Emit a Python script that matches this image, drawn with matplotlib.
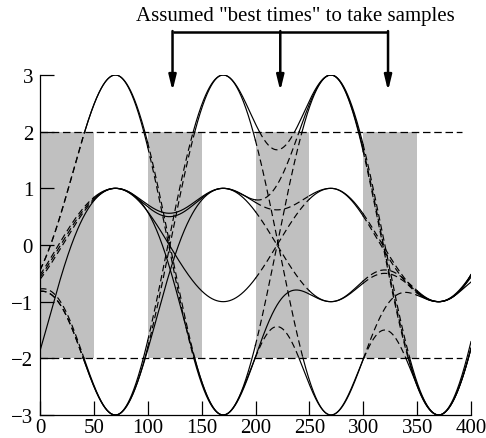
import numpy as np
import matplotlib.pyplot as plt

plt.rcParams['font.family'] = ['Liberation Serif', 'DejaVu Serif']

# symbol period and symbol instants covering one 400-sample eye window
T = 100
symbol_times = [-30, 70, 170, 270, 370, 470]

# 4-PAM symbol sequences, one per eye trace
traces = [
    [-1, 3, -3, 3, -3, 3],
    [-1, 3, -3, -1, -1, 1],
    [-3, 1, 1, 3, -3, 3],
    [-1, 1, 1, -1, -1, -1],
    [-1, -3, 3, 3, -3, 3],
    [-1, 1, -3, -3, -3, 3],
    [-1, 1, -1, 1, -1, 3],
    [-1, -3, 3, -3, -1, 1],
    [-1, -3, 1, 1, -1, 3],
]
# 1 = trace is drawn dashed inside that shaded window
dashed_in = [
    [1, 1, 1, 1],
    [1, 1, 0, 1],
    [0, 0, 1, 1],
    [1, 0, 1, 1],
    [1, 1, 1, 1],
    [1, 0, 1, 1],
    [1, 0, 1, 1],
    [1, 1, 1, 1],
    [1, 0, 1, 1],
]

windows = [(0, 50), (100, 150), (200, 250), (300, 350)]
threshold = 2
sample_times = [123, 223, 323]
xticks = list(range(0, 401, 50))
yticks = [-3, -2, -1, 0, 1, 2, 3]


def pulse(u):
    au = np.abs(u)
    main = np.cos(np.pi * au / 2) ** 4
    tail = -0.03 * np.sin(np.pi * (au - 1)) ** 2
    return np.where(au <= 1, main, np.where(au < 2, tail, 0.0))


fig = plt.figure(figsize=(4.86, 4.39), dpi=100)
ax = fig.add_axes([40 / 486, 23 / 439, 431 / 486, 340 / 439])

for x0, x1 in windows:
    ax.fill_between([x0, x1], -threshold, threshold, color='#c0c0c0', lw=0, zorder=0)

ax.plot([0, 392], [threshold, threshold], color='k', lw=0.9, ls=(0, (6, 3)), zorder=1)
ax.plot([0, 392], [-threshold, -threshold], color='k', lw=0.9, ls=(0, (6, 3)), zorder=1)

x = np.arange(0, 400.01, 0.25)
for syms, flags in zip(traces, dashed_in):
    y = sum(a * pulse((x - t) / T) for a, t in zip(syms, symbol_times))
    inside = np.zeros(x.size, bool)
    for (x0, x1), f in zip(windows, flags):
        if f:
            inside |= (x >= x0) & (x <= x1) & (np.abs(y) < threshold)
    outside = ~inside
    dash_mask = inside | np.roll(inside, 1) | np.roll(inside, -1)
    solid_mask = outside | np.roll(outside, 1) | np.roll(outside, -1)
    ax.plot(x, np.where(solid_mask, y, np.nan), color='k', lw=0.85, zorder=3)
    ax.plot(x, np.where(dash_mask, y, np.nan), color='k', lw=0.85,
            ls=(0, (5.5, 3.2)), zorder=3)

ax.set_xlim(0, 400)
ax.set_ylim(-3, 3)
ax.set_xticks(xticks)
ax.set_yticks(yticks)
ax.spines['top'].set_visible(False)
ax.spines['right'].set_visible(False)
for s in ('left', 'bottom'):
    ax.spines[s].set_linewidth(0.9)
ax.tick_params(direction='in', length=10, width=0.9, labelsize=15)
ax.tick_params(axis='y', pad=5)
ax.tick_params(axis='x', pad=2)

# bracket with arrows pointing at the assumed sampling instants
top = 3.76
ax.plot([sample_times[0], sample_times[-1]], [top, top], color='k', lw=1.8,
        clip_on=False, solid_capstyle='butt')
for st in sample_times:
    ax.annotate('', xy=(st, 2.72), xytext=(st, top + 0.015), annotation_clip=False,
                arrowprops=dict(arrowstyle='-|>,head_length=0.9,head_width=0.22',
                                lw=1.8, color='k', shrinkA=0, shrinkB=0))
ax.text(237, 3.97, 'Assumed "best times" to take samples', ha='center',
        va='baseline', fontsize=15)

fig.savefig('out.png', dpi=100)
